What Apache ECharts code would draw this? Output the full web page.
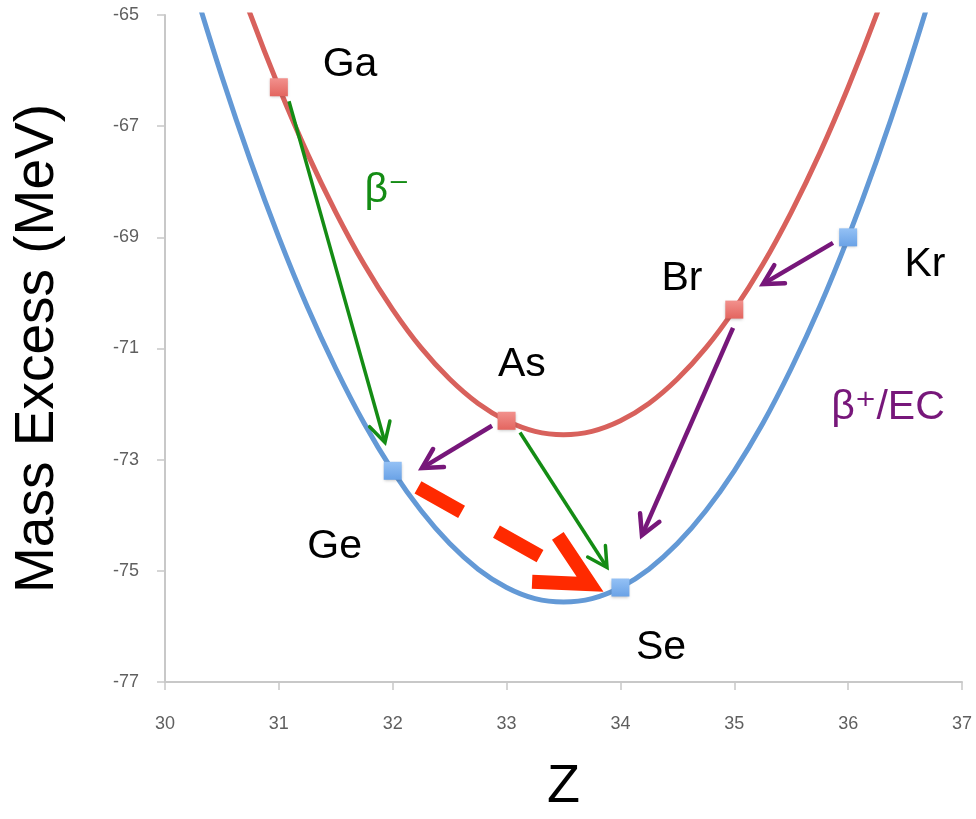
<!DOCTYPE html>
<html>
<head>
<meta charset="utf-8">
<script src="https://cdn.jsdelivr.net/npm/echarts@6/dist/echarts.min.js"></script>
<style>
html,body{margin:0;padding:0;background:#fff;}
#chart{width:976px;height:819px;}
</style>
</head>
<body>
<div id="chart"></div>
<script>
// ---- data ----
const curveZ = [30.25,30.5,30.75,31,31.25,31.5,31.75,32,32.25,32.5,32.75,33,33.25,33.5,33.75,34,34.25,34.5,34.75,35,35.25,35.5,35.75,36,36.25,36.5,36.75];
const oddOddCurve = [-61.99,-63.55,-64.99,-66.3,-67.49,-68.55,-69.49,-70.3,-70.99,-71.55,-71.99,-72.3,-72.49,-72.55,-72.49,-72.3,-71.99,-71.55,-70.99,-70.3,-69.49,-68.55,-67.49,-66.3,-64.99,-63.55,-61.99];
const evenEvenCurve = [-64.47,-66.11,-67.62,-69.0,-70.25,-71.36,-72.35,-73.2,-73.92,-74.51,-74.97,-75.3,-75.5,-75.56,-75.5,-75.3,-74.97,-74.51,-73.92,-73.2,-72.35,-71.36,-70.25,-69.0,-67.62,-66.11,-64.47];

const oddOddZ = [31, 33, 35];          // Ga, As, Br
const oddOddMass = [-66.3, -72.3, -70.3];
const evenEvenZ = [32, 34, 36];        // Ge, Se, Kr
const evenEvenMass = [-73.2, -75.3, -69.0];

const xTicks = [30, 37, 1];
const yTicks = [-77, -65, 2];

// annotation labels: [text, Z, mass]
const elementLabels = [
  ['Ga', 31.625, -65.81],
  ['Ge', 31.49, -74.47],
  ['As', 33.135, -71.21],
  ['Se', 34.356, -76.30],
  ['Br', 34.54, -69.66],
  ['Kr', 36.675, -69.40]
];
const decayLabels = [
  ['β⁻', 31.95, -68.08, 'green'],
  ['β⁺/EC', 36.35, -72.0, 'purple']
];

// arrows: [Z start, mass start, Z end, mass end]
const betaMinusArrows = [
  [31.089, -66.55, 31.932, -72.69],
  [33.118, -72.51, 33.882, -74.94]
];
const betaPlusArrows = [
  [32.872, -72.39, 32.257, -73.15],
  [35.867, -69.10, 35.252, -69.84],
  [34.989, -70.63, 34.189, -74.36]
];
const doubleBetaArrow = [
  [32.222, -73.50, 33.733, -75.24]
];

// ---- chart ----
const chart = echarts.init(document.getElementById('chart'), null, {renderer: 'canvas'});

function zip(xs, ys) { return xs.map((x, i) => [x, ys[i]]); }

function arrowRenderer(color, width, headLen, headAng) {
  return function (params, api) {
    const p1 = api.coord([api.value(0), api.value(1)]);
    const p2 = api.coord([api.value(2), api.value(3)]);
    const ang = Math.atan2(p2[1] - p1[1], p2[0] - p1[0]);
    const a1 = [p2[0] - headLen * Math.cos(ang - headAng), p2[1] - headLen * Math.sin(ang - headAng)];
    const a2 = [p2[0] - headLen * Math.cos(ang + headAng), p2[1] - headLen * Math.sin(ang + headAng)];
    return {
      type: 'group',
      children: [
        {type: 'line', shape: {x1: p1[0], y1: p1[1], x2: p2[0] - Math.cos(ang) * width * 0.5, y2: p2[1] - Math.sin(ang) * width * 0.5},
         style: {stroke: color, lineWidth: width, lineCap: 'butt'}},
        {type: 'polyline', shape: {points: [a1, p2, a2]},
         style: {stroke: color, lineWidth: width, fill: null, lineJoin: 'miter', lineCap: 'round'}}
      ]
    };
  };
}

function dashedArrowRenderer(color, width) {
  return function (params, api) {
    const p1 = api.coord([api.value(0), api.value(1)]);
    const p2 = api.coord([api.value(2), api.value(3)]);
    const dx = p2[0] - p1[0], dy = p2[1] - p1[1];
    const L = Math.sqrt(dx * dx + dy * dy);
    const ang = Math.atan2(dy, dx);
    const shaftLen = L - 56;
    const e = [p1[0] + Math.cos(ang) * shaftLen, p1[1] + Math.sin(ang) * shaftLen];
    const headLen = 58, headAng = 0.47;
    const a1 = [p2[0] - headLen * Math.cos(ang - headAng), p2[1] - headLen * Math.sin(ang - headAng)];
    const a2 = [p2[0] - headLen * Math.cos(ang + headAng), p2[1] - headLen * Math.sin(ang + headAng)];
    return {
      type: 'group',
      children: [
        {type: 'line', shape: {x1: p1[0], y1: p1[1], x2: e[0], y2: e[1]},
         style: {stroke: color, lineWidth: width, lineDash: [50, 40], lineCap: 'butt'}},
        {type: 'polyline', shape: {points: [a1, p2, a2]},
         style: {stroke: color, lineWidth: width, fill: null, lineJoin: 'miter', miterLimit: 10, lineCap: 'butt'}}
      ]
    };
  };
}

const labelFont = 'Liberation Sans, Arial, DejaVu Sans, sans-serif';
const tickFont = 'Liberation Sans, Arial, sans-serif';

const option = {
  backgroundColor: '#ffffff',
  animation: false,
  grid: {left: 165, right: 14, top: 15, bottom: 122, containLabel: false},
  xAxis: {
    type: 'value', min: xTicks[0], max: xTicks[1], interval: xTicks[2],
    name: 'Z', nameLocation: 'middle', nameGap: 78,
    nameTextStyle: {fontSize: 54, color: '#000', fontFamily: labelFont},
    axisLine: {show: true, onZero: false, lineStyle: {color: '#c8c8c8', width: 2}},
    axisTick: {show: true, length: 8, lineStyle: {color: '#c8c8c8', width: 1.5}},
    axisLabel: {color: '#5f5f5f', fontSize: 18, margin: 33, fontFamily: tickFont},
    splitLine: {show: false}
  },
  yAxis: {
    type: 'value', min: yTicks[0], max: yTicks[1], interval: yTicks[2],
    name: 'Mass Excess (MeV)', nameLocation: 'middle', nameGap: 100,
    nameTextStyle: {fontSize: 55, color: '#000', fontFamily: labelFont},
    axisLine: {show: true, onZero: false, lineStyle: {color: '#c8c8c8', width: 2}},
    axisTick: {show: true, length: 8, lineStyle: {color: '#c8c8c8', width: 1.5}},
    axisLabel: {color: '#5f5f5f', fontSize: 18, margin: 26, fontFamily: tickFont},
    splitLine: {show: false}
  },
  series: [
    {
      name: 'odd-odd fit', type: 'line', data: zip(curveZ, oddOddCurve),
      smooth: 0.4, showSymbol: false, clip: true, z: 2,
      lineStyle: {color: '#d8615c', width: 5}
    },
    {
      name: 'even-even fit', type: 'line', data: zip(curveZ, evenEvenCurve),
      smooth: 0.4, showSymbol: false, clip: true, z: 2,
      lineStyle: {color: '#6399d6', width: 5}
    },
    {
      name: 'arrows beta-', type: 'custom', renderItem: arrowRenderer('#148c14', 3.5, 22, 0.5),
      data: betaMinusArrows, z: 3, silent: true
    },
    {
      name: 'arrows beta+', type: 'custom', renderItem: arrowRenderer('#77177a', 4.5, 22, 0.5),
      data: betaPlusArrows, z: 3, silent: true
    },
    {
      name: 'double beta', type: 'custom', renderItem: dashedArrowRenderer('#ff2a00', 14),
      data: doubleBetaArrow, z: 3, silent: true
    },
    {
      name: 'odd-odd', type: 'scatter', data: zip(oddOddZ, oddOddMass),
      symbol: 'rect', symbolSize: 18, z: 5,
      itemStyle: {
        opacity: 1,
        color: new echarts.graphic.LinearGradient(0, 0, 0, 1, [{offset: 0, color: '#f2918d'}, {offset: 1, color: '#e3655f'}]),
        shadowBlur: 3, shadowColor: 'rgba(0,0,0,0.25)', shadowOffsetY: 1
      }
    },
    {
      name: 'even-even', type: 'scatter', data: zip(evenEvenZ, evenEvenMass),
      symbol: 'rect', symbolSize: 18, z: 5,
      itemStyle: {
        opacity: 1,
        color: new echarts.graphic.LinearGradient(0, 0, 0, 1, [{offset: 0, color: '#94c1f5'}, {offset: 1, color: '#6aa2e6'}]),
        shadowBlur: 3, shadowColor: 'rgba(0,0,0,0.25)', shadowOffsetY: 1
      }
    },
    {
      name: 'element labels', type: 'scatter', symbolSize: 0, silent: true, z: 6,
      itemStyle: {opacity: 1},
      data: elementLabels.map(d => ({value: [d[1], d[2]], name: d[0]})),
      label: {show: true, position: 'inside', offset: [0, 5], formatter: p => p.name, color: '#000', fontSize: 41, fontFamily: labelFont}
    },
    {
      name: 'decay labels', type: 'scatter', symbolSize: 0, silent: true, z: 6,
      itemStyle: {opacity: 1},
      data: decayLabels.map(d => ({value: [d[1], d[2]], name: d[0],
        label: {color: d[3] === 'green' ? '#148c14' : '#77177a'}})),
      label: {show: true, position: 'inside', offset: [0, 4], formatter: p => p.name, fontSize: 41, fontFamily: labelFont}
    }
  ]
};
chart.setOption(option);
</script>
</body>
</html>
